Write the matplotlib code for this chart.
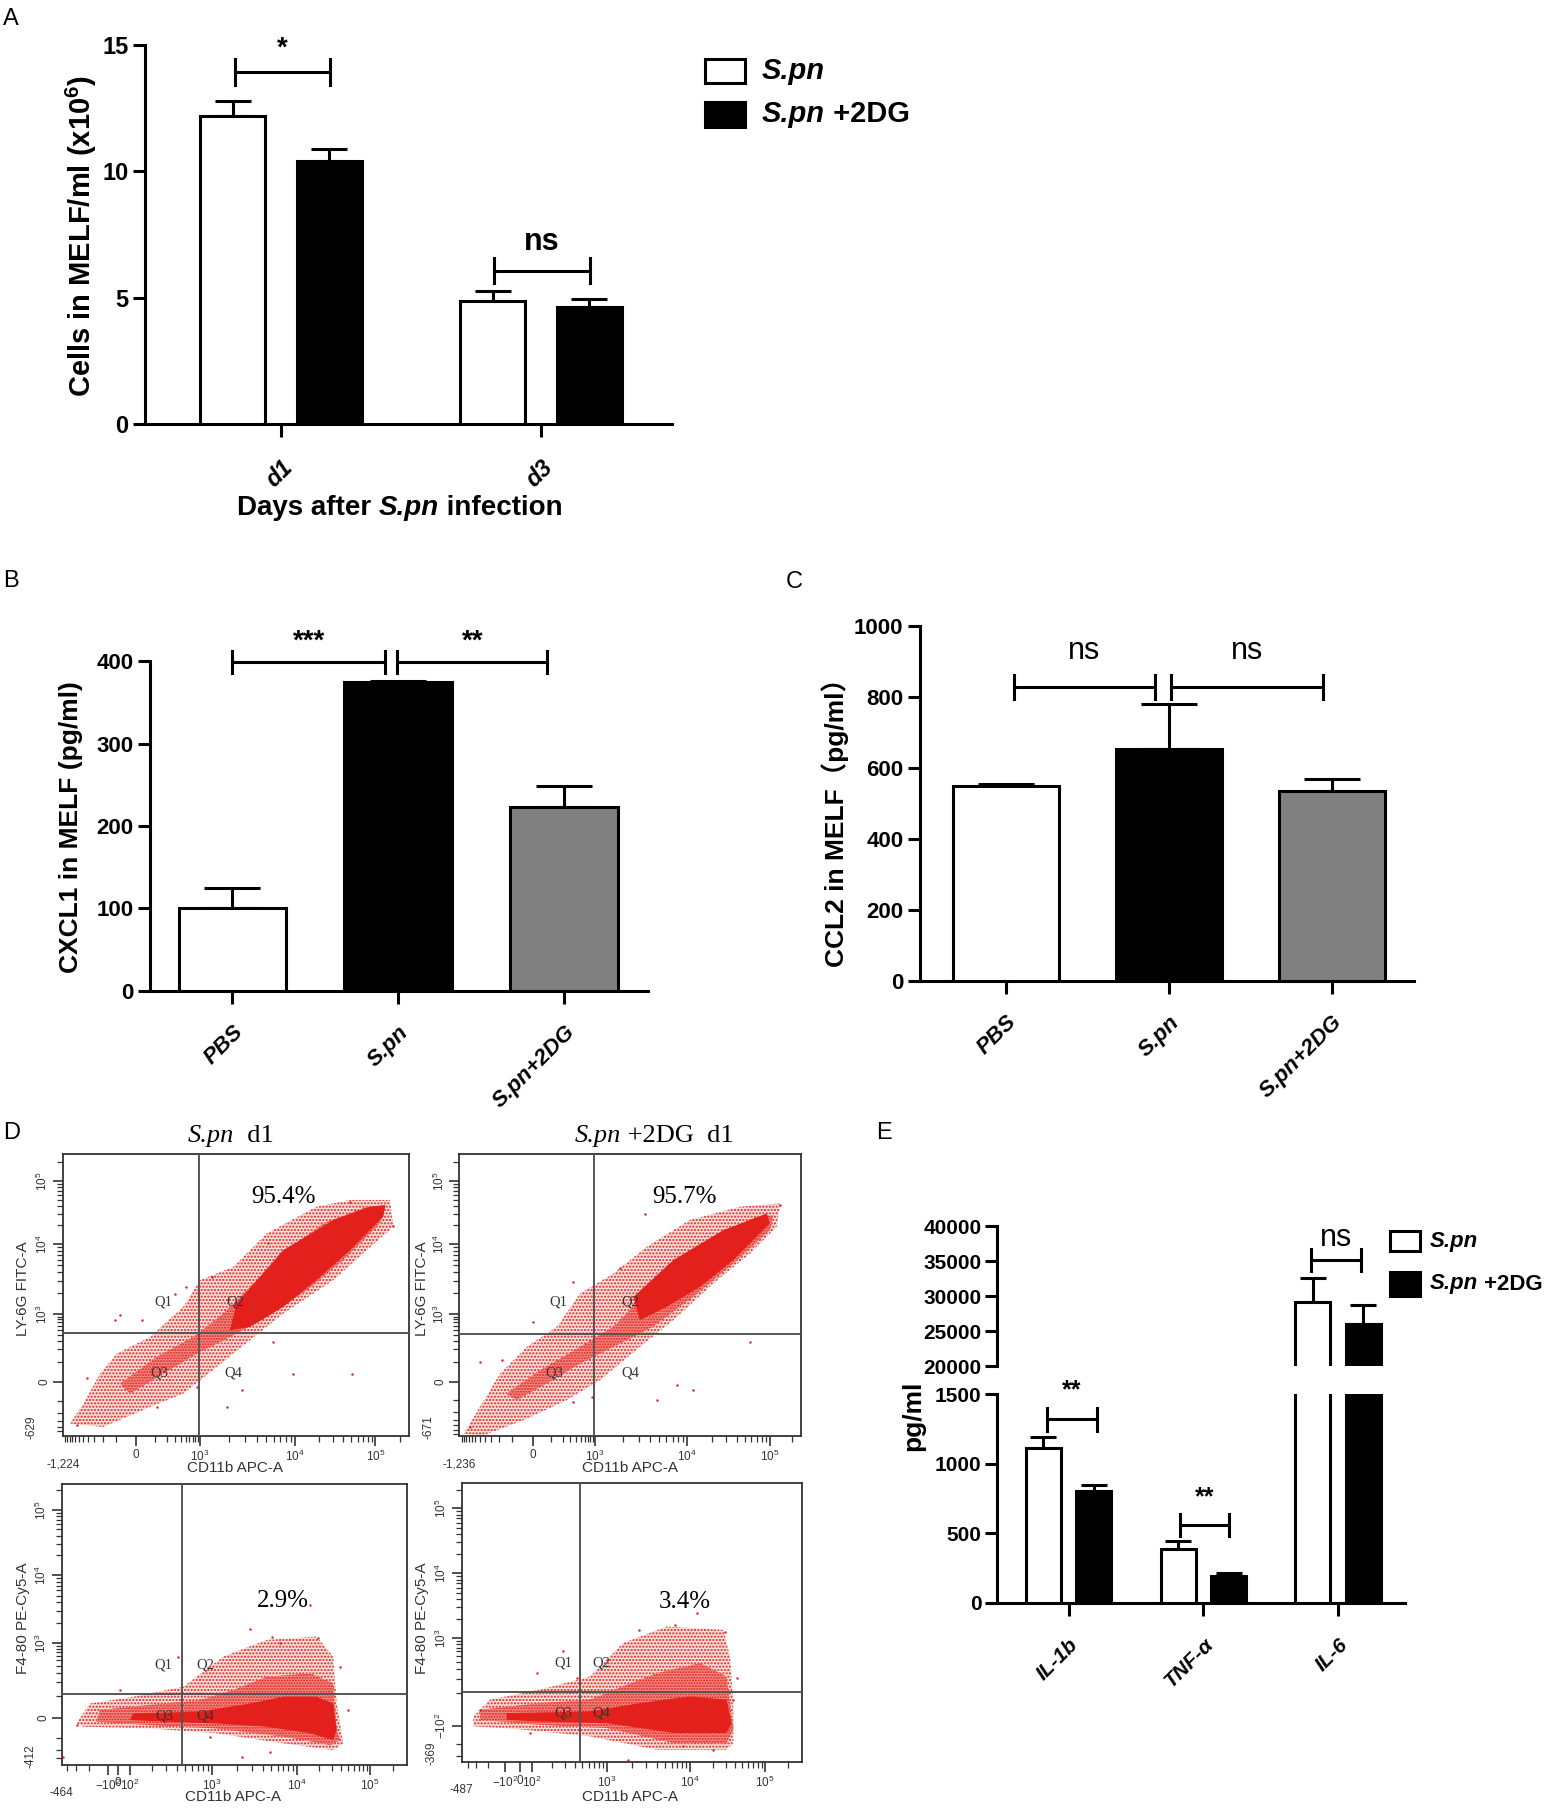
import numpy as np
import matplotlib
matplotlib.use('Agg')
import matplotlib.pyplot as plt
from matplotlib import font_manager
from matplotlib.patches import Polygon, Rectangle

# ---------------- data ----------------
# A: cells in MELF
a_days = ['d1', 'd3']
a_spn = [12.2, 4.88]
a_spn_err = [0.6, 0.4]
a_dg = [10.4, 4.64]
a_dg_err = [0.5, 0.32]

# B / C: chemokines
groups = ['PBS', 'S.pn', 'S.pn+2DG']
b_cxcl1 = [100, 374, 223]
b_err = [25, 2, 26]
c_ccl2 = [550, 654, 535]
c_err = [4, 127, 35]

# E: cytokines
e_cyto = ['IL-1b', 'TNF-α', 'IL-6']
e_spn = [1115, 388, 29100]
e_spn_err = [75, 59, 3500]
e_dg = [805, 192, 26000]
e_dg_err = [40, 26, 2800]

# D: flow dot plots, regions (fraction of plot box)
tl_sparse = [(0.021, 0.044), (0.060, 0.115), (0.108, 0.221), (0.156, 0.292), (0.252, 0.351),
             (0.348, 0.458), (0.397, 0.553), (0.493, 0.600), (0.589, 0.718), (0.733, 0.813),
             (0.830, 0.837), (0.945, 0.837), (0.955, 0.742), (0.878, 0.659), (0.782, 0.553),
             (0.637, 0.434), (0.541, 0.340), (0.445, 0.245), (0.348, 0.150), (0.252, 0.103),
             (0.117, 0.032)]
tl_medium = [(0.166, 0.186), (0.271, 0.280), (0.377, 0.351), (0.464, 0.434), (0.541, 0.529),
             (0.637, 0.647), (0.753, 0.754), (0.878, 0.813), (0.931, 0.813), (0.916, 0.754),
             (0.810, 0.624), (0.705, 0.517), (0.589, 0.422), (0.483, 0.351), (0.387, 0.292),
             (0.291, 0.221), (0.194, 0.150)]
tl_core = [(0.502, 0.470), (0.637, 0.659), (0.782, 0.766), (0.887, 0.813), (0.931, 0.819),
           (0.926, 0.778), (0.830, 0.659), (0.733, 0.553), (0.637, 0.458), (0.541, 0.387),
           (0.483, 0.375)]
tl_pts = [(0.166, 0.428), (0.151, 0.411), (0.228, 0.411), (0.324, 0.505), (0.356, 0.529),
          (0.430, 0.564), (0.594, 0.683), (0.666, 0.221), (0.834, 0.221), (0.517, 0.162),
          (0.474, 0.103), (0.271, 0.103), (0.069, 0.204), (0.042, 0.038), (0.955, 0.744),
          (0.830, 0.831), (0.608, 0.334), (0.387, 0.174)]

tr_sparse = [(0.013, 0.008), (0.061, 0.103), (0.120, 0.221), (0.198, 0.316), (0.286, 0.387),
             (0.354, 0.505), (0.451, 0.576), (0.549, 0.671), (0.675, 0.766), (0.822, 0.813),
             (0.939, 0.825), (0.929, 0.742), (0.851, 0.647), (0.744, 0.541), (0.627, 0.411),
             (0.529, 0.316), (0.412, 0.198), (0.315, 0.127), (0.188, 0.056), (0.071, 0.002)]
tr_medium = [(0.139, 0.150), (0.237, 0.233), (0.354, 0.316), (0.451, 0.387), (0.529, 0.482),
             (0.627, 0.588), (0.744, 0.706), (0.870, 0.777), (0.919, 0.783), (0.909, 0.730),
             (0.802, 0.612), (0.685, 0.494), (0.568, 0.388), (0.451, 0.316), (0.354, 0.257),
             (0.256, 0.186), (0.168, 0.127)]
tr_core = [(0.510, 0.493), (0.627, 0.624), (0.773, 0.730), (0.900, 0.789), (0.909, 0.754),
           (0.802, 0.624), (0.705, 0.529), (0.607, 0.458), (0.529, 0.411)]
tr_pts = [(0.544, 0.789), (0.334, 0.547), (0.061, 0.263), (0.125, 0.269), (0.636, 0.180),
          (0.685, 0.162), (0.578, 0.127), (0.471, 0.594), (0.032, 0.032), (0.939, 0.819),
          (0.851, 0.334), (0.334, 0.121), (0.217, 0.405), (0.388, 0.138)]

bl_sparse = [(0.043, 0.148), (0.082, 0.219), (0.208, 0.243), (0.353, 0.279), (0.469, 0.386),
             (0.594, 0.445), (0.739, 0.457), (0.787, 0.386), (0.797, 0.219), (0.816, 0.077),
             (0.787, 0.053), (0.643, 0.077), (0.449, 0.113), (0.256, 0.130), (0.063, 0.136)]
bl_medium = [(0.111, 0.196), (0.256, 0.214), (0.401, 0.231), (0.498, 0.267), (0.594, 0.314),
             (0.720, 0.326), (0.787, 0.291), (0.797, 0.125), (0.807, 0.089), (0.778, 0.071),
             (0.643, 0.101), (0.449, 0.130), (0.256, 0.142), (0.101, 0.154)]
bl_core = [(0.208, 0.184), (0.401, 0.190), (0.546, 0.219), (0.643, 0.243), (0.739, 0.243),
           (0.787, 0.219), (0.797, 0.125), (0.787, 0.089), (0.720, 0.113), (0.594, 0.136),
           (0.449, 0.148), (0.304, 0.154), (0.198, 0.160)]
bl_pts = [(0.546, 0.483), (0.609, 0.457), (0.744, 0.451), (0.604, 0.047), (0.522, 0.030),
          (0.720, 0.569), (0.169, 0.267), (0.338, 0.386), (0.831, 0.196), (0.043, 0.142),
          (0.005, 0.030), (0.430, 0.101), (0.807, 0.350), (0.633, 0.433)]

br_sparse = [(0.034, 0.163), (0.083, 0.223), (0.230, 0.259), (0.377, 0.306), (0.475, 0.426),
             (0.603, 0.485), (0.770, 0.473), (0.789, 0.378), (0.799, 0.211), (0.799, 0.068),
             (0.779, 0.044), (0.574, 0.044), (0.377, 0.092), (0.181, 0.116), (0.034, 0.128)]
br_medium = [(0.054, 0.187), (0.230, 0.211), (0.377, 0.223), (0.475, 0.271), (0.574, 0.318),
             (0.701, 0.354), (0.779, 0.306), (0.799, 0.116), (0.779, 0.068), (0.623, 0.068),
             (0.426, 0.122), (0.230, 0.133), (0.054, 0.151)]
br_core = [(0.132, 0.175), (0.377, 0.181), (0.525, 0.211), (0.672, 0.235), (0.779, 0.223),
           (0.794, 0.139), (0.779, 0.104), (0.623, 0.104), (0.426, 0.139), (0.230, 0.145),
           (0.132, 0.151)]
br_pts = [(0.299, 0.396), (0.221, 0.318), (0.691, 0.533), (0.775, 0.467), (0.520, 0.473),
          (0.490, 0.008), (0.809, 0.300), (0.054, 0.187), (0.201, 0.104), (0.652, 0.056),
          (0.740, 0.044), (0.338, 0.300), (0.627, 0.491), (0.799, 0.223)]

flow_pct = ['95.4%', '95.7%', '2.9%', '3.4%']
flow_gate = [(0.394, 0.365), (0.395, 0.362), (0.349, 0.253), (0.348, 0.252)]

# ---------------- fonts / style ----------------
names = {f.name for f in font_manager.fontManager.ttflist}
SANS = 'Liberation Sans'
NARROW = 'Liberation Sans Narrow' if 'Liberation Sans Narrow' in names else SANS
SERIF = 'Liberation Serif'

RED = '#e3201b'
LW = 2.2

plt.rcParams['font.family'] = [SANS, 'DejaVu Sans']
plt.rcParams['mathtext.default'] = 'regular'
plt.rcParams['hatch.color'] = RED
plt.rcParams['hatch.linewidth'] = 1.0

W, H = 1548, 1809
fig = plt.figure(figsize=(W / 100, H / 100), dpi=100)
renderer = fig.canvas.get_renderer()


def rect(x0, y0, x1, y1):
    return [x0 / W, 1 - y1 / H, (x1 - x0) / W, (y1 - y0) / H]


def ftext(x, y, s, **kw):
    return fig.text(x / W, 1 - y / H, s, **kw)


def rich(x, y, parts, center=False, **kw):
    # parts: list of (string, fontstyle); drawn one after another on a line
    texts, cur = [], x
    for s, style in parts:
        t = ftext(cur, y, s, fontstyle=style, ha='left', va='center', **kw)
        cur += t.get_window_extent(renderer).width
        texts.append(t)
    if center:
        shift = (cur - x) / 2
        for t in texts:
            px, py = t.get_position()
            t.set_position((px - shift / W, py))


def style_bar_axes(ax):
    for s in ['top', 'right']:
        ax.spines[s].set_visible(False)
    for s in ['left', 'bottom']:
        ax.spines[s].set_linewidth(LW)
    ax.tick_params(width=LW, length=9, direction='out')


def bracket(ax, x1, x2, y, cap, label, ty, **kw):
    ax.plot([x1, x2], [y, y], color='k', lw=LW, clip_on=False, solid_capstyle='butt')
    for x in (x1, x2):
        ax.plot([x, x], [y - cap, y + cap], color='k', lw=LW, clip_on=False)
    ax.text((x1 + x2) / 2, ty, label, ha='center', va='center', clip_on=False, **kw)


def up_err(ax, x, vals, errs, cap):
    ax.errorbar(x, vals, yerr=[np.zeros(len(vals)), errs], fmt='none', ecolor='k',
                elinewidth=LW, capsize=cap, capthick=LW, zorder=2)


def legend_box(x0, y0, w, h, fc):
    fig.add_artist(Rectangle((x0 / W, 1 - (y0 + h) / H), w / W, h / H, transform=fig.transFigure,
                             facecolor=fc, edgecolor='k', lw=LW))


# panel letters
for lab, x, y in [('A', 3, 19), ('B', 3, 581), ('C', 786, 582), ('D', 3, 1133), ('E', 876, 1133)]:
    ftext(x, y, lab, fontsize=17, family=NARROW, va='center', ha='left')

# ---------------- A ----------------
OFF, BW = 0.185, 0.25
axA = fig.add_axes(rect(145, 45, 672, 424))
xa = np.arange(len(a_days))
up_err(axA, xa - OFF, a_spn, a_spn_err, 13)
up_err(axA, xa + OFF, a_dg, a_dg_err, 13)
axA.bar(xa - OFF, a_spn, BW, color='white', edgecolor='k', lw=LW, zorder=3)
axA.bar(xa + OFF, a_dg, BW, color='k', edgecolor='k', lw=LW, zorder=3)
axA.set_xlim(-0.523, 1.504)
axA.set_ylim(0, 15)
style_bar_axes(axA)
axA.set_yticks([0, 5, 10, 15], ['0', '5', '10', '15'], fontsize=17, fontweight='bold')
axA.set_xticks(xa, a_days, fontsize=17, fontweight='bold', fontstyle='italic',
               rotation=45, ha='right', va='top', rotation_mode='anchor')
axA.tick_params(axis='x', pad=14)
axA.tick_params(axis='y', pad=3)
bracket(axA, -0.177, 0.188, 13.93, 0.5, '*', 14.85, fontsize=20, fontweight='bold')
bracket(axA, 0.82, 1.188, 6.07, 0.5, 'ns', 7.2, fontsize=22, fontweight='bold')
ftext(81, 236, r'Cells in MELF/ml (x10$^{6}$)', rotation=90, ha='center', va='center',
      fontsize=21, fontweight='bold')
rich(400, 508, [('Days after ', 'normal'), ('S.pn', 'italic'), (' infection', 'normal')],
     center=True, fontsize=20, fontweight='bold')
legend_box(705, 59, 40, 24, 'white')
legend_box(705, 102, 40, 25, 'k')
rich(762, 71, [('S.pn', 'italic')], fontsize=21, fontweight='bold')
rich(762, 114, [('S.pn', 'italic'), (' +2DG', 'normal')], fontsize=21, fontweight='bold')

# ---------------- B ----------------
BWB = 0.65
xg = np.arange(len(groups))
axB = fig.add_axes(rect(150, 661, 648, 991))
up_err(axB, xg, b_cxcl1, b_err, 20)
axB.bar(xg, b_cxcl1, BWB, color=['white', 'k', '#808080'], edgecolor='k', lw=LW, zorder=3)
axB.set_xlim(-0.497, 2.506)
axB.set_ylim(0, 400)
style_bar_axes(axB)
axB.set_yticks([0, 100, 200, 300, 400], ['0', '100', '200', '300', '400'], fontsize=16,
               fontweight='bold')
axB.set_xticks(xg, groups, fontsize=16, fontweight='bold', fontstyle='italic',
               rotation=45, ha='right', va='top', rotation_mode='anchor')
axB.tick_params(axis='x', pad=13)
axB.tick_params(axis='y', pad=3)
bracket(axB, 0.0, 0.919, 399, 13, '***', 424, fontsize=20, fontweight='bold')
bracket(axB, 0.994, 1.898, 399, 13, '**', 424, fontsize=20, fontweight='bold')
ftext(71, 827, 'CXCL1 in MELF (pg/ml)', rotation=90, ha='center', va='center',
      fontsize=19, fontweight='bold')

# ---------------- C ----------------
axC = fig.add_axes(rect(920, 626, 1414, 981))
up_err(axC, xg, c_ccl2, c_err, 20)
axC.bar(xg, c_ccl2, BWB, color=['white', 'k', '#808080'], edgecolor='k', lw=LW, zorder=3)
axC.set_xlim(-0.525, 2.506)
axC.set_ylim(0, 1000)
style_bar_axes(axC)
axC.set_yticks([0, 200, 400, 600, 800, 1000], ['0', '200', '400', '600', '800', '1000'],
               fontsize=16, fontweight='bold')
axC.set_xticks(xg, groups, fontsize=16, fontweight='bold', fontstyle='italic',
               rotation=45, ha='right', va='top', rotation_mode='anchor')
axC.tick_params(axis='x', pad=13)
axC.tick_params(axis='y', pad=3)
bracket(axC, 0.052, 0.917, 827, 34, 'ns', 930, fontsize=22, family=NARROW)
bracket(axC, 1.018, 1.948, 827, 34, 'ns', 930, fontsize=22, family=NARROW)
ftext(835, 816, 'CCL2 in MELF（pg/ml）', rotation=90, ha='center', va='center',
      fontsize=19, fontweight='bold', family=[SANS, 'Noto Sans CJK SC'])

# ---------------- E ----------------
OFFE, BWE = 0.187, 0.26
xe = np.arange(len(e_cyto))
axE = fig.add_axes(rect(996.6, 1394, 1404.9, 1603))
axE2 = fig.add_axes(rect(996.6, 1226.4, 1404.9, 1366))
for ax in (axE, axE2):
    up_err(ax, xe - OFFE, e_spn, e_spn_err, 9.5)
    up_err(ax, xe + OFFE, e_dg, e_dg_err, 9.5)
    ax.bar(xe - OFFE, e_spn, BWE, color='white', edgecolor='k', lw=LW, zorder=3)
    ax.bar(xe + OFFE, e_dg, BWE, color='k', edgecolor='k', lw=LW, zorder=3)
    ax.set_xlim(-0.534, 2.496)
    style_bar_axes(ax)
    ax.tick_params(axis='y', pad=2)
axE.set_ylim(0, 1500)
axE2.set_ylim(20000, 40000)
axE2.spines['bottom'].set_visible(False)
axE2.set_xticks([])
axE.set_yticks([0, 500, 1000, 1500], ['0', '500', '1000', '1500'], fontsize=15,
               fontweight='bold')
axE2.set_yticks([20000, 25000, 30000, 35000, 40000],
                ['20000', '25000', '30000', '35000', '40000'], fontsize=15,
                fontweight='bold')
axE.set_xticks(xe, e_cyto, fontsize=15, fontweight='bold', fontstyle='italic',
               rotation=45, ha='right', va='top', rotation_mode='anchor',
               family=[SANS, 'DejaVu Sans'])
axE.tick_params(axis='x', pad=14)
bracket(axE, -0.16, 0.21, 1317, 80, '**', 1523, fontsize=18, fontweight='bold')
bracket(axE, 1 - 0.17, 1.19, 561, 80, '**', 757, fontsize=18, fontweight='bold')
bracket(axE2, 2 - 0.2, 2.17, 35180, 1600, 'ns', 38300, fontsize=22, family=NARROW)
ftext(913, 1416, 'pg/ml', rotation=90, ha='center', va='center', fontsize=19, fontweight='bold')
legend_box(1390, 1231, 30, 20, 'white')
legend_box(1390, 1272, 30, 24, 'k')
rich(1430, 1241, [('S.pn', 'italic')], fontsize=16, fontweight='bold')
rich(1430, 1284, [('S.pn', 'italic'), (' +2DG', 'normal')], fontsize=16, fontweight='bold')


# ---------------- D ----------------
def fmap(v, av, af, c=100.0):
    t = np.arcsinh(np.asarray(v, float) / c)
    return np.interp(t, np.arcsinh(np.asarray(av, float) / c), af)


tick_vals = np.concatenate([-np.arange(100, 1300, 100), np.arange(100, 1000, 100),
                            np.arange(1000, 10000, 1000), np.arange(10000, 100000, 10000),
                            np.arange(100000, 300000, 100000)])


def flow_axes(box, xanch, yanch, xmaj, xlabs, ymaj, ylabs, sparse, medium, core, pts,
              gate, pct, pct_xy, q_xy, xmin_lab, ymin_lab):
    ax = fig.add_axes(rect(*box))
    ax.set_xlim(0, 1)
    ax.set_ylim(0, 1)
    ax.add_patch(Polygon(sparse, closed=True, facecolor='#fcdedb', edgecolor=RED, lw=0,
                         hatch='.....', zorder=1))
    ax.add_patch(Polygon(medium, closed=True, facecolor='#f28a84', edgecolor=RED, lw=0,
                         hatch='......', zorder=2))
    ax.add_patch(Polygon(core, closed=True, facecolor=RED, edgecolor='none', zorder=3))
    px_, py_ = zip(*pts)
    ax.scatter(px_, py_, s=3, color=RED, lw=0, zorder=3)
    ax.axvline(gate[0], color='#555555', lw=1.4, zorder=4)
    ax.axhline(gate[1], color='#555555', lw=1.4, zorder=4)
    ax.text(pct_xy[0], pct_xy[1], pct, family=SERIF, fontsize=18, ha='center', va='center',
            zorder=5)
    for q, (qx, qy) in zip(['Q1', 'Q2', 'Q3', 'Q4'], q_xy):
        ax.text(qx, qy, q, family=SERIF, fontsize=10.5, color='#333333', ha='center',
                va='center', zorder=5)
    ax.set_xticks(fmap(xmaj, *xanch), xlabs, fontsize=8.5, color='#333333')
    ax.set_yticks(fmap(ymaj, *yanch), ylabs, fontsize=8.5, color='#333333', rotation=90,
                  va='center')
    xm = fmap(tick_vals, *xanch)
    ym = fmap(tick_vals, *yanch)
    ax.set_xticks(xm[(xm > 0.005) & (xm < 0.995)], minor=True)
    ax.set_yticks(ym[(ym > 0.005) & (ym < 0.995)], minor=True)
    ax.tick_params(which='major', length=7, width=1.2, pad=2, colors='#333333')
    ax.tick_params(which='minor', length=4, width=0.9, colors='#333333')
    for s in ax.spines.values():
        s.set_linewidth(1.3)
        s.set_color('#333333')
    ax.text(0.0, -0.1, xmin_lab, transform=ax.transAxes, fontsize=8.5, color='#333333',
            ha='center', va='center')
    ax.text(-0.09, 0.03, ymin_lab, transform=ax.transAxes, fontsize=8.5, color='#333333',
            ha='center', va='center', rotation=90)
    return ax


top_y = ([-629, 0, 1e3, 1e4, 1e5, 262144], [0, 0.192, 0.432, 0.68, 0.904, 1.0])
top_ylab = ([0, 1e3, 1e4, 1e5], ['0', '$10^3$', '$10^4$', '$10^5$'])
flow_axes((62.7, 1154, 409, 1436),
          ([-1224, 0, 1e3, 1e4, 1e5, 262144], [0, 0.212, 0.397, 0.671, 0.903, 1.0]), top_y,
          [0, 1e3, 1e4, 1e5], ['0', '$10^3$', '$10^4$', '$10^5$'], *top_ylab,
          tl_sparse, tl_medium, tl_core, tl_pts, flow_gate[0], flow_pct[0], (0.637, 0.848),
          [(0.29, 0.476), (0.498, 0.476), (0.28, 0.223), (0.493, 0.223)], '-1,224', '-629')
flow_axes((459, 1154, 801, 1436),
          ([-1236, 0, 1e3, 1e4, 1e5, 262144], [0, 0.215, 0.398, 0.666, 0.909, 1.0]),
          ([-671, 0, 1e3, 1e4, 1e5, 262144], [0, 0.192, 0.432, 0.68, 0.904, 1.0]),
          [0, 1e3, 1e4, 1e5], ['0', '$10^3$', '$10^4$', '$10^5$'], *top_ylab,
          tr_sparse, tr_medium, tr_core, tr_pts, flow_gate[1], flow_pct[1], (0.66, 0.848),
          [(0.29, 0.476), (0.5, 0.476), (0.28, 0.223), (0.5, 0.223)], '-1,236', '-671')
bot_xlab = ([-100, 0, 100, 1e3, 1e4, 1e5],
            ['$-10^2$', '0', '$10^2$', '$10^3$', '$10^4$', '$10^5$'])
flow_axes((61.7, 1484, 406.7, 1765),
          ([-464, -100, 0, 100, 1e3, 1e4, 1e5, 262144],
           [0, 0.135, 0.164, 0.198, 0.435, 0.681, 0.894, 0.985]),
          ([-412, 0, 1e3, 1e4, 1e5, 262144], [0, 0.167, 0.434, 0.676, 0.908, 1.005]),
          *bot_xlab, [0, 1e3, 1e4, 1e5], ['0', '$10^3$', '$10^4$', '$10^5$'],
          bl_sparse, bl_medium, bl_core, bl_pts, flow_gate[2], flow_pct[2], (0.642, 0.584),
          [(0.294, 0.356), (0.415, 0.356), (0.297, 0.174), (0.415, 0.174)], '-464', '-412')
flow_axes((461.7, 1482.7, 801.7, 1762),
          ([-487, -100, 0, 100, 1e3, 1e4, 1e5, 262144],
           [0, 0.127, 0.172, 0.206, 0.426, 0.672, 0.892, 0.985]),
          ([-369, -100, 0, 1e3, 1e4, 1e5, 262144], [0, 0.128, 0.163, 0.443, 0.676, 0.908, 1.0]),
          *bot_xlab, [-100, 1e3, 1e4, 1e5], ['$-10^2$', '$10^3$', '$10^4$', '$10^5$'],
          br_sparse, br_medium, br_core, br_pts, flow_gate[3], flow_pct[3], (0.657, 0.574),
          [(0.30, 0.356), (0.41, 0.356), (0.30, 0.174), (0.41, 0.174)], '-487', '-369')

# flow titles and axis names
rich(231, 1136, [('S.pn', 'italic'), ('  d1', 'normal')], center=True, family=SERIF,
     fontsize=19)
rich(654, 1136, [('S.pn', 'italic'), (' +2DG  d1', 'normal')], center=True, family=SERIF,
     fontsize=19)
for x, y, s, rot in [(23, 1289, 'LY-6G FITC-A', 90), (422, 1289, 'LY-6G FITC-A', 90),
                     (235, 1468, 'CD11b APC-A', 0), (630, 1468, 'CD11b APC-A', 0),
                     (23, 1618, 'F4-80 PE-Cy5-A', 90), (422, 1618, 'F4-80 PE-Cy5-A', 90),
                     (233, 1797, 'CD11b APC-A', 0), (630, 1797, 'CD11b APC-A', 0)]:
    ftext(x, y, s, rotation=rot, fontsize=11, color='#333333', ha='center', va='center')

fig.savefig('out.png', dpi=100)
